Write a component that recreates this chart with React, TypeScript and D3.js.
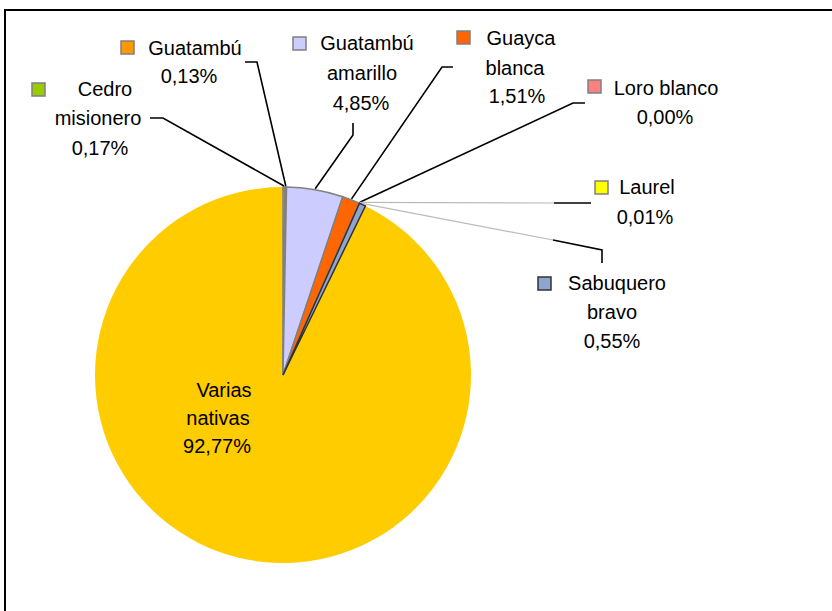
import React from "react";
import * as d3 from "d3";

const categories = [
  "Cedro misionero",
  "Guatambú",
  "Guatambú amarillo",
  "Guayca blanca",
  "Loro blanco",
  "Laurel",
  "Sabuquero bravo",
  "Varias nativas",
];
const values = [0.17, 0.13, 4.85, 1.51, 0.0, 0.01, 0.55, 92.77];
const nameLines = [
  ["Cedro", "misionero"],
  ["Guatambú"],
  ["Guatambú", "amarillo"],
  ["Guayca", "blanca"],
  ["Loro blanco"],
  ["Laurel"],
  ["Sabuquero", "bravo"],
  ["Varias", "nativas"],
];

// styles
const colors = ["#99CC00", "#FF9900", "#CCCCFF", "#FF6600", "#FF8080", "#FFFF00", "#8FA5D0", "#FFCC00"];
const sliceStroke = ["#808080", "#808080", "#808080", "#808080", "#808080", "#808080", "#333333", "none"];

// layout of labels (positions only)
type LabelLayout = {
  cx: number[];
  by: number[];
  marker: [number, number] | null;
  black: [number, number][];
  grayFrom?: [number, number];
};
const layout: LabelLayout[] = [
  { cx: [105, 98, 100], by: [96, 125, 155], marker: [32, 83], black: [[150, 118], [163, 118]] },
  { cx: [195, 189], by: [55, 83], marker: [121, 41], black: [[245, 62], [257, 62]] },
  { cx: [367, 362, 361], by: [50, 80, 110], marker: [293, 37], black: [[353, 123], [353, 135]] },
  { cx: [521, 515, 517], by: [45, 75, 103], marker: [457, 31], black: [[453, 67], [442, 67]] },
  { cx: [666, 665], by: [95, 124], marker: [588, 80], black: [[585, 103], [573, 103]] },
  { cx: [647, 645], by: [194, 224], marker: [595, 181], black: [[591, 203], [554, 203]], grayFrom: [554, 203] },
  { cx: [617, 612, 612], by: [290, 319, 348], marker: [538, 277], black: [[602, 263], [602, 250], [553, 240]], grayFrom: [553, 240] },
  { cx: [224, 218, 217], by: [397, 425, 453], marker: null, black: [] },
];

const W = 832;
const H = 611;
const CX = 283;
const CY = 375;
const R = 188;

const fmt = (v: number) => v.toFixed(2).replace(".", ",") + "%";

export default function App() {
  const pie = d3
    .pie<number>()
    .sort(null)
    .startAngle(0)
    .endAngle(2 * Math.PI)
    .value((d) => d);
  const arcs = pie(values);
  const arc = d3.arc<d3.PieArcDatum<number>>().innerRadius(0).outerRadius(R);
  const edgePoint = (a: d3.PieArcDatum<number>, r: number): [number, number] => {
    const m = (a.startAngle + a.endAngle) / 2;
    return [CX + r * Math.sin(m), CY - r * Math.cos(m)];
  };
  const line = d3.line();
  const order = [7, 0, 1, 2, 3, 4, 5, 6];

  return (
    <svg
      width={W}
      height={H}
      style={{ position: "absolute", left: 0, top: 0, fontFamily: "'Liberation Sans', Arial, sans-serif" }}
    >
      <rect x={0} y={0} width={W} height={H} fill="#fff" />
      <rect x={5} y={10} width={W + 20} height={H + 20} fill="none" stroke="#000" strokeWidth={2} />
      <g transform={`translate(${CX},${CY})`}>
        {order.map((i) => (
          <path
            key={i}
            d={arc(arcs[i]) || ""}
            fill={colors[i]}
            stroke={sliceStroke[i]}
            strokeWidth={sliceStroke[i] === "none" ? 0 : 1.5}
          />
        ))}
      </g>
      {layout.map((L, i) => {
        if (L.black.length === 0) return null;
        const p = edgePoint(arcs[i], R + 1);
        if (L.grayFrom) {
          return (
            <g key={"l" + i}>
              <path d={line([L.grayFrom, p]) || ""} stroke="#BBBBBB" strokeWidth={1.2} fill="none" />
              <path d={line(L.black) || ""} stroke="#000" strokeWidth={1.6} fill="none" />
            </g>
          );
        }
        return (
          <path key={"l" + i} d={line([...L.black, p]) || ""} stroke="#000" strokeWidth={1.6} fill="none" />
        );
      })}
      {layout.map((L, i) => {
        const lines = [...nameLines[i], fmt(values[i])];
        return (
          <g key={"t" + i}>
            {L.marker && (
              <rect
                x={L.marker[0]}
                y={L.marker[1]}
                width={13}
                height={13}
                fill={colors[i]}
                stroke={i === 6 ? "#333" : "#808080"}
                strokeWidth={1.5}
              />
            )}
            {lines.map((t, j) => (
              <text key={j} x={L.cx[j]} y={L.by[j]} textAnchor="middle" fontSize={20} fill="#000">
                {t}
              </text>
            ))}
          </g>
        );
      })}
    </svg>
  );
}
